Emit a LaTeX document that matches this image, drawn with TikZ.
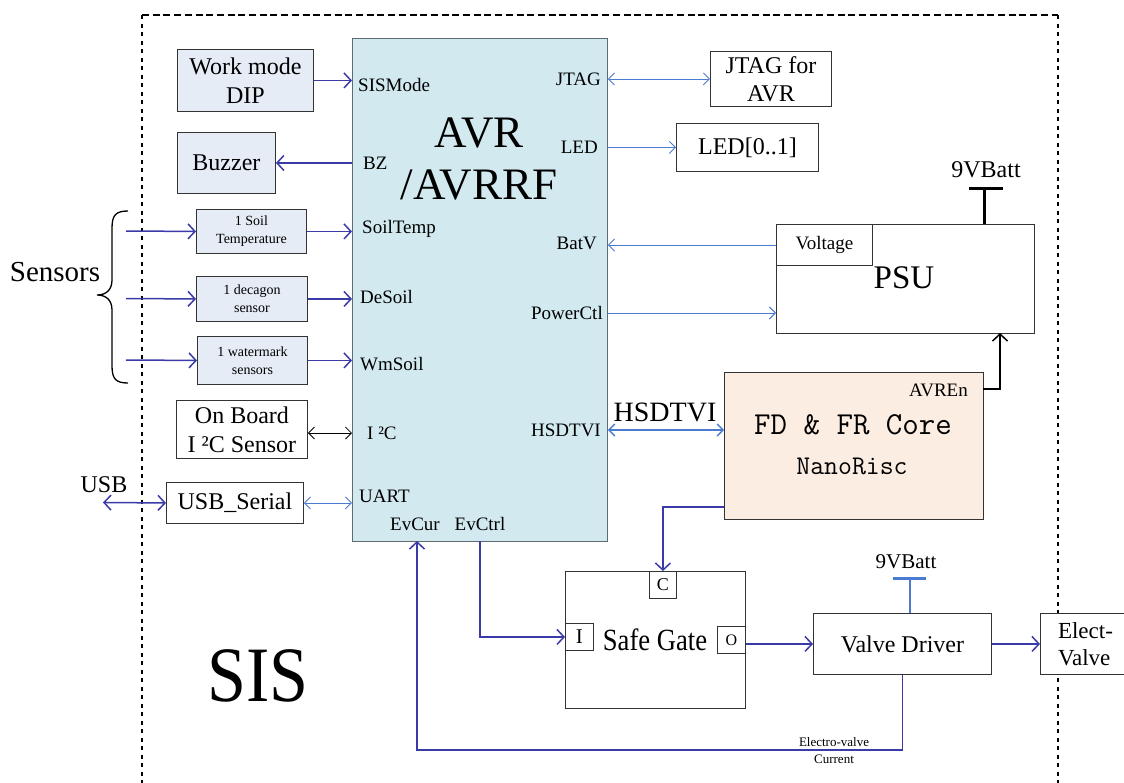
\documentclass[tikz,border=0pt]{standalone}
\usepackage{fontspec}
\setmainfont{Liberation Serif}
\usetikzlibrary{arrows.meta}
\definecolor{avrfill}{RGB}{210,233,239}
\definecolor{avrline}{RGB}{95,107,112}
\definecolor{boxfill}{RGB}{229,236,246}
\definecolor{fdfill}{RGB}{251,237,226}
\definecolor{navyc}{RGB}{58,58,168}
\definecolor{lblue}{RGB}{74,123,208}
\newcommand{\fsz}[2]{\fontsize{#1}{#2}\selectfont}
\newcommand{\itwoc}{I ²C}
\tikzset{
  box/.style={draw=black!80, line width=0.9pt, inner sep=0pt, anchor=north west, align=center},
  bbox/.style={box, fill=boxfill},
  lbl/.style={inner sep=0pt, font=\fsz{19}{22}},
  darr/.style={draw=navyc, line width=1.5pt, -{Straight Barb[length=7pt,width=15pt]}},
  dboth/.style={draw=navyc, line width=1.5pt, {Straight Barb[length=7pt,width=15pt]}-{Straight Barb[length=7pt,width=15pt]}},
  larr/.style={draw=lblue, line width=0.9pt, -{Straight Barb[length=6pt,width=12pt]}},
  lboth/.style={draw=lblue, line width=0.9pt, {Straight Barb[length=6pt,width=12pt]}-{Straight Barb[length=6pt,width=12pt]}},
  karr/.style={draw=black, line width=1.5pt, -{Straight Barb[length=7pt,width=15pt]}},
  kboth/.style={draw=black, line width=0.8pt, {Straight Barb[length=6pt,width=12pt]}-{Straight Barb[length=6pt,width=12pt]}},
  border/.style={draw=black, line width=2.4pt}
}
\begin{document}
\begin{tikzpicture}[x=1pt,y=-1pt]
\useasboundingbox (0,0) rectangle (1124,782);
\clip (0,0) rectangle (1124,782);
% outer dashed frame
\coordinate (ftl) at (142,15);
\coordinate (ftr) at (1058,15);
\coordinate (fbl) at (142,790);
\coordinate (fbr) at (1058,790);
\draw[border, dash pattern=on 7pt off 3.7pt] (ftl) -- (ftr);
\draw[border, dash pattern=on 4pt off 4.5pt] (ftl) -- (fbl);
\draw[border, dash pattern=on 4pt off 4.5pt] (ftr) -- (fbr);

% main AVR block
\node[box, fill=avrfill, draw=avrline, minimum width=255pt, minimum height=503pt] (avr) at (352,38) {};
\node[anchor=base, inner sep=0pt, font=\fsz{45}{48}] (tavr) at (479,147) {AVR};
\node[anchor=base, inner sep=0pt, font=\fsz{45}{48}] (tavrrf) at (479,199) {/AVRRF};

% left side blocks
\node[bbox, minimum width=136pt, minimum height=62pt, font=\fsz{24}{29}] (dip) at (177,49) {Work mode\\DIP};
\node[bbox, minimum width=98pt, minimum height=61pt, font=\fsz{24}{28}] (buzz) at (177,132) {Buzzer};
\node[bbox, minimum width=110pt, minimum height=44pt, font=\fsz{14}{18}] (soil) at (196,209) {1 Soil\\Temperature};
\node[bbox, minimum width=111pt, minimum height=45pt, font=\fsz{14}{18}] (deca) at (196,276) {1 decagon\\sensor};
\node[bbox, minimum width=110pt, minimum height=48pt, font=\fsz{14}{18}] (wm) at (197,336) {1 watermark\\sensors};
\node[box, fill=white, minimum width=131pt, minimum height=58pt, font=\fsz{24}{29}] (onb) at (176,400) {On Board\\\itwoc{} Sensor};
\node[box, fill=white, minimum width=137pt, minimum height=41pt, font=\fsz{24}{28}] (usbs) at (166,482) {USB\_Serial};

% right side blocks
\node[box, fill=white, minimum width=121pt, minimum height=55pt, font=\fsz{24}{28}] (jtagb) at (710,51) {JTAG for\\AVR};
\node[box, fill=white, minimum width=142pt, minimum height=48pt, font=\fsz{24}{28}] (ledb) at (676,123) {LED[0..1]};
\node[box, fill=white, minimum width=258pt, minimum height=109pt] (psu) at (776,224) {};
\node[inner sep=0pt, font=\fsz{33}{36}] (tpsu) at (904,278) {PSU};
\node[box, fill=white, minimum width=96pt, minimum height=41pt, font=\fsz{19}{22}] (volt) at (776,224) {Voltage};
\node[box, fill=fdfill, minimum width=259pt, minimum height=147pt] (fd) at (724,372) {};
\node[inner sep=0pt, font=\ttfamily\fsz{32}{34}] (tfd) at (853,425) {FD \& FR Core};
\node[inner sep=0pt, font=\ttfamily\fsz{27}{29}] (tnano) at (852,466) {NanoRisc};
\node[lbl, anchor=east] (laven) at (968,390) {AVREn};

% bottom blocks
\node[box, fill=white, minimum width=180pt, minimum height=137pt] (sg) at (565,571) {};
\node[inner sep=0pt, font=\fsz{28}{30}] (tsg) at (655,640) {\scalebox{0.95}[1.1]{Safe Gate}};
\node[box, fill=white, minimum width=27pt, minimum height=27pt, font=\fsz{18}{20}] (cbox) at (649,571) {C};
\node[box, fill=white, minimum width=28pt, minimum height=27pt, font=\fsz{21}{22}] (ibox) at (565,623) {I};
\node[box, fill=white, minimum width=28pt, minimum height=27pt, font=\fsz{16}{18}] (obox) at (717,626) {O};
\node[box, fill=white, minimum width=178pt, minimum height=61pt, font=\fsz{24}{28}] (vd) at (813,613) {Valve Driver};
\node[box, fill=white, minimum width=90pt, minimum height=61pt, font=\fsz{23}{27}, align=left] (ev) at (1040,613) {Elect-\\Valve};

% free texts
\node[inner sep=0pt, font=\fsz{29}{32}] (tsens) at (55,272) {Sensors};
\node[inner sep=0pt, font=\fsz{24}{26}] (tusb) at (104,485) {USB};
\node[inner sep=0pt, font=\fsz{24}{26}] (tbatt1) at (986,170) {9VBatt};
\node[inner sep=0pt, font=\fsz{21}{24}] (tbatt2) at (906,562) {9VBatt};
\node[inner sep=0pt, font=\fsz{28}{30}] (thsd) at (665,412) {HSDTVI};
\node[inner sep=0pt, font=\fsz{13}{17}, align=center] (tevc) at (834,751) {Electro-valve\\Current};
\node[inner sep=0pt, font=\fsz{70}{72}] (tsis) at (258,676) {\scalebox{1}[1.12]{SIS}};

% pin labels inside AVR
\node[lbl, anchor=west] (lsis) at (358,85) {SISMode};
\node[lbl, anchor=west] (lbz) at (363,163) {BZ};
\node[lbl, anchor=west] (lst) at (362,229) {SoilTemp};
\node[lbl, anchor=west] (lde) at (360,297) {DeSoil};
\node[lbl, anchor=west] (lwm) at (360,364) {WmSoil};
\node[lbl, anchor=west] (li2c) at (367,433) {\itwoc};
\node[lbl, anchor=west] (luart) at (359,496) {UART};
\node[lbl] (levcur) at (415,524) {EvCur};
\node[lbl] (levctrl) at (480,524) {EvCtrl};
\node[lbl, anchor=east] (ljtag) at (601,79) {JTAG};
\node[lbl, anchor=east] (lled) at (598,147) {LED};
\node[lbl, anchor=east] (lbatv) at (597,243) {BatV};
\node[lbl, anchor=east] (lpow) at (603,313) {PowerCtl};
\node[lbl, anchor=east] (lhs) at (601,430) {HSDTVI};

% coordinates for free ends
\coordinate (s1) at (126,231);
\coordinate (s2) at (126,298.5);
\coordinate (s3) at (126,360);
\coordinate (usbl) at (103,502.5);
\coordinate (evcurpin) at (417,541);
\coordinate (evctrlpin) at (480,541);
\coordinate (fb) at (417,750);
\coordinate (fdout) at (724,507);
\coordinate (pcin) at (776,313);
\coordinate (aven) at (983,389);
\coordinate (psuin) at (1000,333);
\coordinate (bt1) at (984,188);
\coordinate (bt1l) at (969,188);
\coordinate (bt1r) at (1003,188);
\coordinate (psutop) at (984,224);
\coordinate (bt2) at (910,578);
\coordinate (bt2l) at (893,578);
\coordinate (bt2r) at (926,578);
\coordinate (vdtop) at (910,613);

% brace
\draw[line width=1.3pt] (128,211) .. controls (116,211) and (112,215) .. (112,228) -- (112,280)
  .. controls (112,290) and (106,295) .. (97,295)
  .. controls (106,295) and (112,300) .. (112,310) -- (112,366)
  .. controls (112,379) and (116,383) .. (128,383);

% dark blue connectors
\draw[darr] (dip.east) -- (dip.east -| avr.west);
\draw[darr] (avr.west |- buzz.east) -- (buzz.east);
\draw[darr] (s1) -- (soil.west);
\draw[darr] (s2) -- (deca.west);
\draw[darr] (s3) -- (wm.west);
\draw[darr] (soil.east) -- (soil.east -| avr.west);
\draw[darr] (deca.east) -- (deca.east -| avr.west);
\draw[darr] (wm.east) -- (wm.east -| avr.west);
\draw[dboth] (usbl) -- (usbs.west);
\draw[darr] (evctrlpin) |- (ibox.west);
\draw[darr] (fdout) -| (cbox.north);
\draw[darr] (vd.west -| obox.east) -- (vd.west);
\draw[darr] (vd.east) -- (ev.west);
\draw[darr] (vd.south) |- (fb) -- (evcurpin);

% light blue connectors
\draw[lboth] (avr.east |- jtagb.west) -- (jtagb.west);
\draw[larr] (avr.east |- ledb.west) -- (ledb.west);
\draw[larr] (volt.west) -- (volt.west -| avr.east);
\draw[larr] (pcin -| avr.east) -- (pcin);
\draw[lboth] (usbs.east) -- (usbs.east -| avr.west);
\draw[lboth, line width=1.4pt] (avr.east |- lhs) -- (fd.west |- lhs);

% black connectors
\draw[kboth] (onb.east |- li2c) -- (avr.west |- li2c);
\draw[karr] (aven) -| (psuin);
\draw[line width=3pt] (bt1l) -- (bt1r);
\draw[line width=3pt] (bt1) -- (psutop);
\draw[lblue, line width=3pt] (bt2l) -- (bt2r);
\draw[lblue, line width=2.5pt] (bt2) -- (vdtop);
\end{tikzpicture}
\end{document}
